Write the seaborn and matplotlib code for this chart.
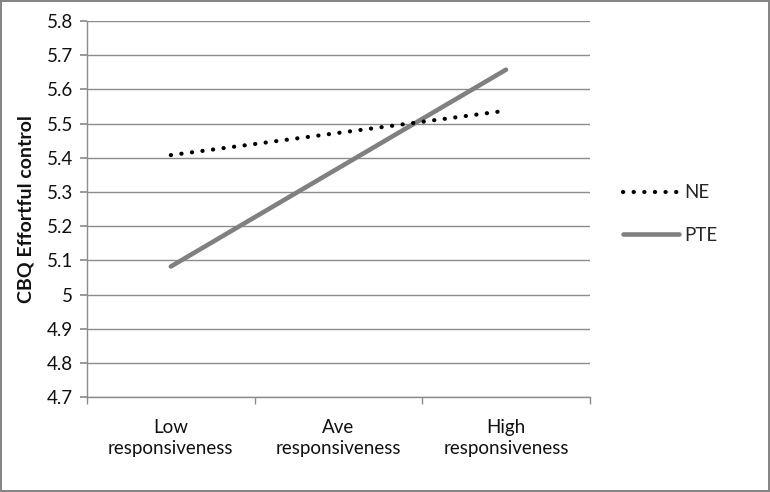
import pandas as pd
import matplotlib.pyplot as plt
import seaborn as sns
from matplotlib.lines import Line2D

# Data
categories = ["Low\nresponsiveness", "Ave\nresponsiveness", "High\nresponsiveness"]
ne_values = [5.408, 5.473, 5.538]
pte_values = [5.082, 5.370, 5.658]
y_ticks = [4.7, 4.8, 4.9, 5.0, 5.1, 5.2, 5.3, 5.4, 5.5, 5.6, 5.7, 5.8]
y_tick_labels = ["4.7", "4.8", "4.9", "5", "5.1", "5.2", "5.3", "5.4", "5.5", "5.6", "5.7", "5.8"]

sns.set_theme(style="white")
plt.rcParams['font.family'] = ['Lato', 'DejaVu Sans']

df = pd.DataFrame({
    'pos': list(range(len(categories))) * 2,
    'value': ne_values + pte_values,
    'group': ['NE'] * len(ne_values) + ['PTE'] * len(pte_values),
})

fig = plt.figure(figsize=(7.7, 4.92), dpi=100)
fig.patch.set_edgecolor('#868686')
fig.patch.set_linewidth(1.5)
ax = fig.add_axes([0.113, 0.193, 0.653, 0.764])

grid_col = '#8c8c8c'
for y in y_ticks:
    ax.axhline(y, color=grid_col, lw=1, zorder=0)

sns.lineplot(data=df[df.group == 'NE'], x='pos', y='value', ax=ax, color='black',
             lw=3, linestyle=(0, (0.05, 2.5)), solid_capstyle='round',
             dash_capstyle='round', legend=False, zorder=3)
sns.lineplot(data=df[df.group == 'PTE'], x='pos', y='value', ax=ax, color='#808080',
             lw=3.3, solid_capstyle='round', legend=False, zorder=2)

fs = 13.5
ax.set_xlim(-0.5, len(categories) - 0.5)
ax.set_ylim(4.7, 5.8)
ax.set_yticks(y_ticks)
ax.set_yticklabels(y_tick_labels, fontsize=fs, color='#111111')
ax.set_xticks(range(len(categories)))
ax.set_xticklabels(categories, fontsize=fs, color='#111111', linespacing=1.3)
ax.set_xticks([-0.5, 0.5, 1.5, 2.5], minor=True)
ax.tick_params(axis='x', which='major', length=0, pad=16)
ax.tick_params(axis='x', which='minor', length=5, color=grid_col, direction='out', bottom=True)
ax.tick_params(axis='y', length=5, color=grid_col, direction='out', left=True, pad=5)
ax.set_xlabel('')
ax.set_ylabel('CBQ Effortful control', fontsize=14, fontweight='bold', labelpad=9,
              color='#111111')

for s in ['top', 'right']:
    ax.spines[s].set_visible(False)
for s in ['left', 'bottom']:
    ax.spines[s].set_color(grid_col)
    ax.spines[s].set_linewidth(1)

handles = [
    Line2D([], [], color='black', lw=3, linestyle=(0, (0.05, 2.5)), dash_capstyle='round'),
    Line2D([], [], color='#808080', lw=3.3, solid_capstyle='round'),
]
fig.legend(handles, ['NE', 'PTE'], loc='center left', bbox_to_anchor=(0.787, 0.565),
           frameon=False, fontsize=fs, handlelength=3.0, handletextpad=0.3,
           labelspacing=1.35)

plt.savefig('out.png', dpi=100)
